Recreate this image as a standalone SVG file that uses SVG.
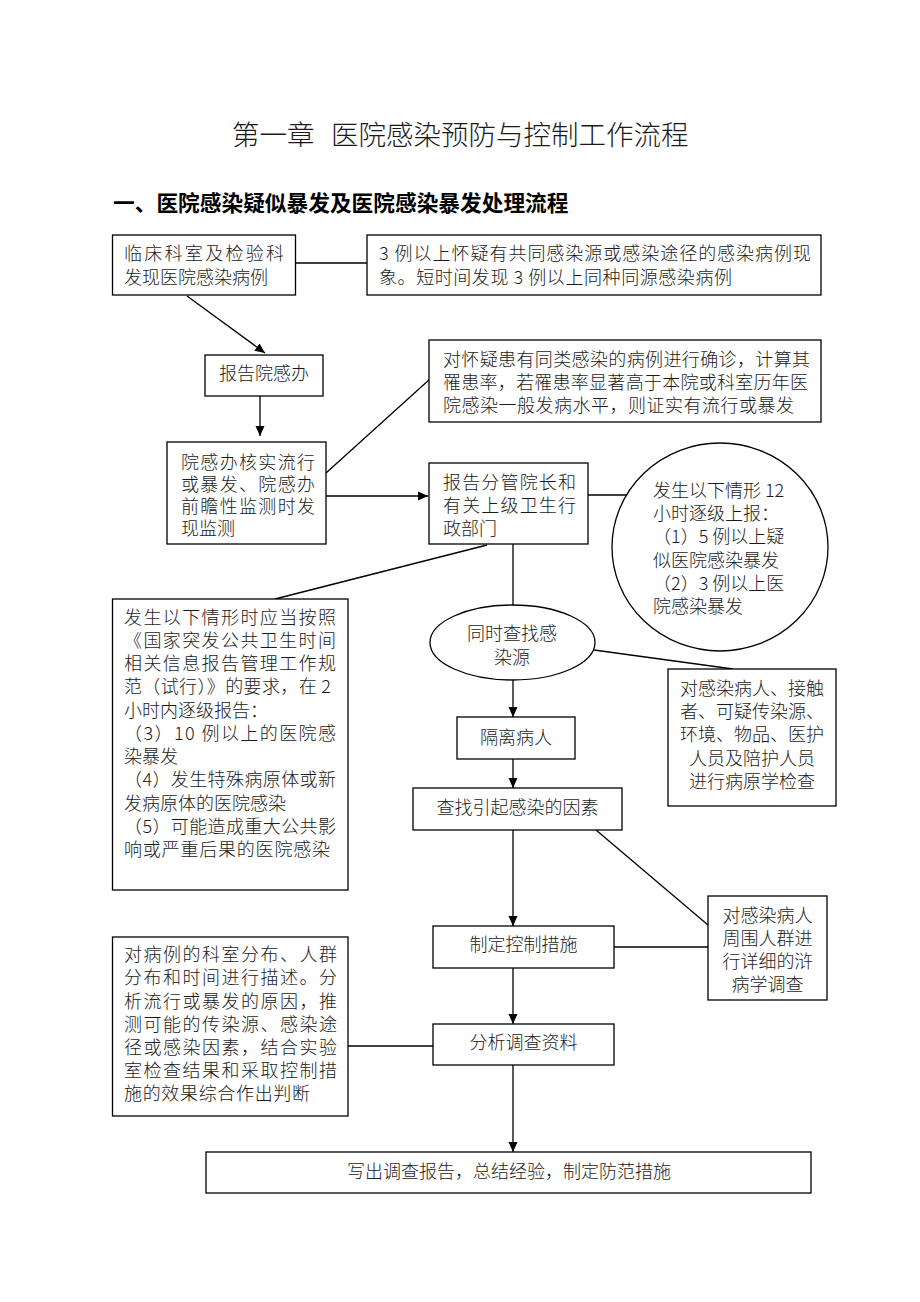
<svg xmlns="http://www.w3.org/2000/svg" width="920" height="1302" viewBox="0 0 920 1302">
<style>
text{font-family:"Noto Sans CJK SC","Noto Sans",sans-serif;font-size:18px;font-weight:300;fill:#1a1a1a}
.title{font-size:27.5px}
.sub{font-size:21.7px;font-weight:700;fill:#000}
.c{text-anchor:middle}
.box{fill:#fff;stroke:#000;stroke-width:1.3}
.ln{fill:none;stroke:#000;stroke-width:1.3}
.ar{fill:none;stroke:#000;stroke-width:1.3;marker-end:url(#ah)}
</style>
<defs>
<marker id="ah" viewBox="0 0 10 10" refX="10" refY="5" markerWidth="10" markerHeight="10" orient="auto" markerUnits="userSpaceOnUse"><path d="M0,0.5 L10,5 L0,9.5 z" fill="#000"/></marker>
</defs>
<rect width="920" height="1302" fill="#fff"/>
<g id="heading">
<text class="title" x="232" y="145">第一章</text>
<text class="title" x="331" y="145">医院感染预防与控制工作流程</text>
<text class="sub" x="113" y="211">一、医院感染疑似暴发及医院感染暴发处理流程</text>
</g>
<g id="connectors">
<line class="ln" x1="295.5" y1="263" x2="367" y2="263"/>
<line class="ar" x1="187" y1="296" x2="265" y2="353"/>
<line class="ar" x1="260" y1="396" x2="260" y2="436"/>
<line class="ln" x1="326" y1="473" x2="430" y2="379"/>
<line class="ar" x1="326" y1="496" x2="428" y2="496"/>
<line class="ln" x1="588" y1="495" x2="626" y2="495"/>
<line class="ln" x1="513" y1="544" x2="513" y2="605"/>
<line class="ln" x1="487" y1="545" x2="275" y2="599"/>
<line class="ln" x1="594" y1="650" x2="733" y2="669"/>
<line class="ar" x1="513" y1="680" x2="513" y2="717"/>
<line class="ar" x1="513" y1="759" x2="513" y2="788"/>
<line class="ln" x1="596" y1="830" x2="708" y2="925"/>
<line class="ar" x1="513" y1="830" x2="513" y2="926"/>
<line class="ln" x1="614" y1="947" x2="708" y2="947"/>
<line class="ar" x1="513" y1="968" x2="513" y2="1024"/>
<line class="ln" x1="348" y1="1046" x2="433" y2="1046"/>
<line class="ar" x1="513" y1="1065" x2="513" y2="1152"/>
</g>
<g id="nodeA">
<rect class="box" x="112.5" y="235" width="183" height="60"/>
<text x="124" y="259.5" textLength="160">临床科室及检验科</text>
<text x="124" y="283.5">发现医院感染病例</text>
</g>
<g id="nodeB">
<rect class="box" x="367" y="235" width="454" height="60"/>
<text x="379" y="259.5" textLength="432">3 例以上怀疑有共同感染源或感染途径的感染病例现</text>
<text x="379" y="283.5" textLength="353">象。短时间发现 3 例以上同种同源感染病例</text>
</g>
<g id="nodeC">
<rect class="box" x="205" y="355" width="118" height="41"/>
<text class="c" x="264" y="380">报告院感办</text>
</g>
<g id="nodeD">
<rect class="box" x="167" y="442" width="159" height="102"/>
<text x="181" y="468.5" textLength="134">院感办核实流行</text>
<text x="181" y="490.5" textLength="134">或暴发、院感办</text>
<text x="181" y="512.5" textLength="134">前瞻性监测时发</text>
<text x="181" y="534.5">现监测</text>
</g>
<g id="nodeE">
<rect class="box" x="429" y="340" width="392" height="82"/>
<text x="443" y="365.5" textLength="367">对怀疑患有同类感染的病例进行确诊，计算其</text>
<text x="443" y="388.5" textLength="365">罹患率，若罹患率显著高于本院或科室历年医</text>
<text x="443" y="411.5" textLength="351">院感染一般发病水平，则证实有流行或暴发</text>
</g>
<g id="nodeF">
<rect class="box" x="429" y="463" width="159" height="81"/>
<text x="443" y="488.5" textLength="133">报告分管院长和</text>
<text x="443" y="511.5" textLength="133">有关上级卫生行</text>
<text x="443" y="534.5">政部门</text>
</g>
<g id="nodeCircle">
<ellipse class="box" cx="720" cy="547" rx="108" ry="104"/>
<text x="653" y="496.5">发生以下情形 12</text>
<text x="653" y="519.5">小时逐级上报：</text>
<text x="653" y="543">（1）5 例以上疑</text>
<text x="653" y="566.5">似医院感染暴发</text>
<text x="653" y="589.5">（2）3 例以上医</text>
<text x="653" y="612.5">院感染暴发</text>
</g>
<g id="nodeG">
<rect class="box" x="112.5" y="599" width="235.5" height="291"/>
<text x="124" y="623.5" textLength="212">发生以下情形时应当按照</text>
<text x="124" y="646.5" textLength="212">《国家突发公共卫生时间</text>
<text x="124" y="669.5" textLength="212">相关信息报告管理工作规</text>
<text x="124" y="693" textLength="207">范（试行）》的要求，在 2</text>
<text x="124" y="716.5">小时内逐级报告：</text>
<text x="124" y="739.5" textLength="212">（3）10 例以上的医院感</text>
<text x="124" y="763">染暴发</text>
<text x="124" y="786" textLength="212">（4）发生特殊病原体或新</text>
<text x="124" y="809.5">发病原体的医院感染</text>
<text x="124" y="833" textLength="212">（5）可能造成重大公共影</text>
<text x="124" y="856" textLength="206">响或严重后果的医院感染</text>
</g>
<g id="nodeH">
<ellipse class="box" cx="512.5" cy="642.5" rx="82.5" ry="37.5"/>
<text class="c" x="512" y="639.5">同时查找感</text>
<text class="c" x="512" y="663.5">染源</text>
</g>
<g id="nodeI">
<rect class="box" x="668" y="669" width="168" height="137"/>
<text class="c" x="752" y="694.5">对感染病人、接触</text>
<text class="c" x="752" y="717.5">者、可疑传染源、</text>
<text class="c" x="752" y="741">环境、物品、医护</text>
<text class="c" x="752" y="764.5">人员及陪护人员</text>
<text class="c" x="752" y="788">进行病原学检查</text>
</g>
<g id="nodeJ">
<rect class="box" x="457" y="717" width="118" height="42"/>
<text class="c" x="516" y="743.5">隔离病人</text>
</g>
<g id="nodeK">
<rect class="box" x="413" y="788" width="209" height="42"/>
<text class="c" x="517.5" y="813.5">查找引起感染的因素</text>
</g>
<g id="nodeL">
<rect class="box" x="433" y="926" width="181" height="42"/>
<text class="c" x="523.5" y="951">制定控制措施</text>
</g>
<g id="nodeM">
<rect class="box" x="708" y="896" width="119" height="104"/>
<text class="c" x="767.5" y="921.5">对感染病人</text>
<text class="c" x="767.5" y="944.5">周围人群进</text>
<text class="c" x="767.5" y="967.5">行详细的浒</text>
<text class="c" x="767.5" y="990.5">病学调查</text>
</g>
<g id="nodeN">
<rect class="box" x="433" y="1024" width="181" height="41"/>
<text class="c" x="523.5" y="1049">分析调查资料</text>
</g>
<g id="nodeO">
<rect class="box" x="112.5" y="937" width="235.5" height="179"/>
<text x="124" y="960.5" textLength="213">对病例的科室分布、人群</text>
<text x="124" y="984" textLength="213">分布和时间进行描述。分</text>
<text x="124" y="1007.5" textLength="213">析流行或暴发的原因，推</text>
<text x="124" y="1030.5" textLength="213">测可能的传染源、感染途</text>
<text x="124" y="1053.5" textLength="213">径或感染因素，结合实验</text>
<text x="124" y="1076.5" textLength="213">室检查结果和采取控制措</text>
<text x="124" y="1099.5" textLength="186">施的效果综合作出判断</text>
</g>
<g id="nodeP">
<rect class="box" x="206" y="1152" width="605" height="41"/>
<text class="c" x="509" y="1177.5">写出调查报告，总结经验，制定防范措施</text>
</g>
</svg>
